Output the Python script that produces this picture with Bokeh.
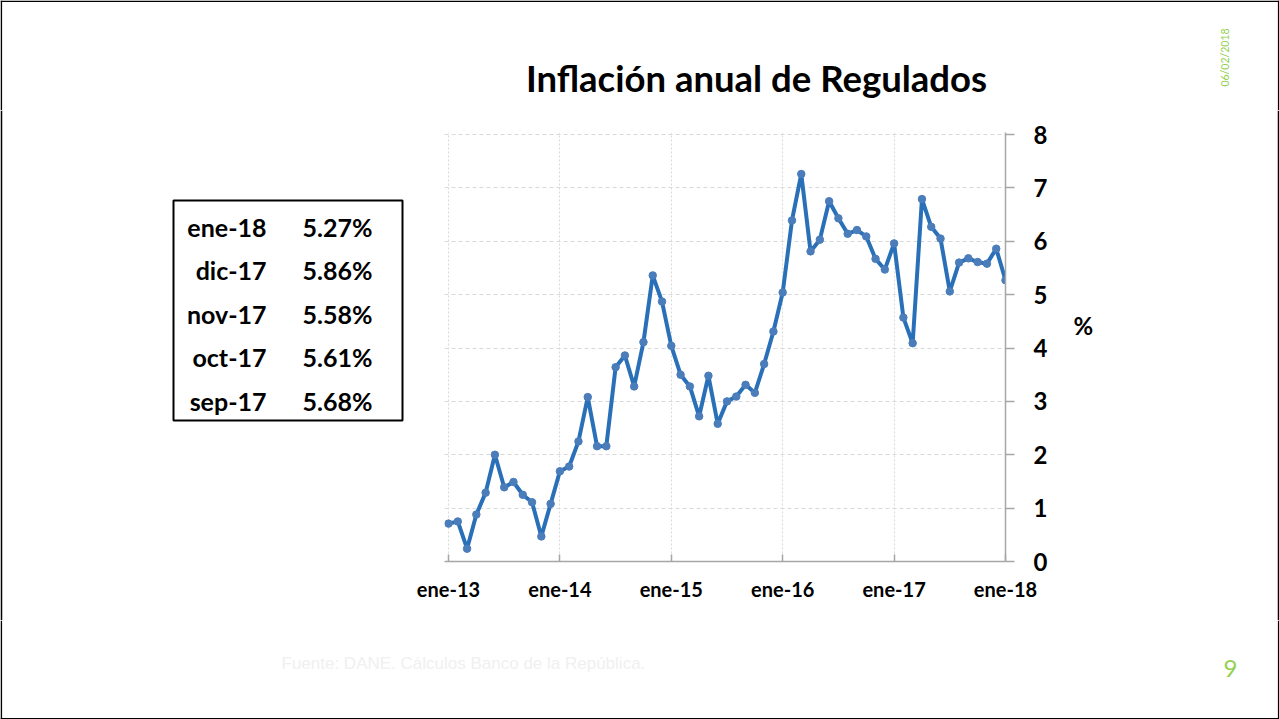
import math
from bokeh.plotting import figure
from bokeh.models import Range1d, FixedTicker, ColumnDataSource
from bokeh.layouts import column, row
from bokeh.core.properties import value
from bokeh.embed import file_html
from bokeh.resources import INLINE

# ---------------- data ----------------
month_abbr = ["ene", "feb", "mar", "abr", "may", "jun", "jul", "ago", "sep", "oct", "nov", "dic"]
years = [13, 14, 15, 16, 17, 18]

values_2013 = [0.71, 0.75, 0.24, 0.88, 1.29, 2.00, 1.39, 1.49, 1.25, 1.11, 0.47, 1.08]
values_2014 = [1.69, 1.78, 2.25, 3.08, 2.16, 2.16, 3.64, 3.86, 3.28, 4.11, 5.36, 4.87]
values_2015 = [4.04, 3.50, 3.28, 2.72, 3.48, 2.58, 3.00, 3.09, 3.31, 3.16, 3.70, 4.31]
values_2016 = [5.04, 6.39, 7.26, 5.81, 6.03, 6.75, 6.43, 6.14, 6.21, 6.09, 5.67, 5.47]
values_2017 = [5.96, 4.57, 4.09, 6.79, 6.27, 6.05, 5.06, 5.60, 5.68, 5.61, 5.58, 5.86]
values_2018 = [5.27]

y_ticks = [0, 1, 2, 3, 4, 5, 6, 7, 8]
x_tick_labels = ["ene-13", "ene-14", "ene-15", "ene-16", "ene-17", "ene-18"]

title_text = "Inflación anual de Regulados"
unit_text = "%"
source_text = "Fuente: DANE. Cálculos Banco de la República."
date_text = "06/02/2018"
page_text = "9"

# ---------------- build series ----------------
all_values = values_2013 + values_2014 + values_2015 + values_2016 + values_2017 + values_2018
labels = []
for yy in years:
    for m in month_abbr:
        labels.append(f"{m}-{yy}")
labels = labels[:len(all_values)]
idx = list(range(len(all_values)))
src = ColumnDataSource(dict(x=idx, y=all_values, label=labels))

FONT = "Lato"
BLUE = "#2A70B8"
GREEN = "#92D050"
BORDER = "black"

W, H = 1279, 719
# layout geometry (page pixels)
TOP_H = 110           # height of title strip
MID_H = 510           # height of the chart strip
BOT_H = H - TOP_H - MID_H
LEFT_W = 410          # width of the table panel
MAIN_W = 655          # width of the chart figure
RIGHT_W = W - LEFT_W - MAIN_W

FRAME_L = 444
FRAME_R = 1005
FRAME_T = 132
FRAME_B = 561
PX_PER_MONTH = (1005 - 448) / 60.0
PX_PER_UNIT = (561 - 134) / 8.0
BW = 2  # slide border width


def no_align(f):
    try:
        f.frame_align = False
    except Exception:
        pass


def blank(w, h, edge_left=0, edge_right=0):
    # the slide's side border is painted as the figure's border fill
    f = figure(width=w, height=h, x_range=Range1d(edge_left, w - edge_right), y_range=Range1d(h, 0),
               output_backend="svg", toolbar_location=None, min_border=0,
               min_border_left=edge_left, min_border_right=edge_right,
               x_axis_type=None, y_axis_type=None)
    f.outline_line_color = None
    f.background_fill_color = "white"
    f.border_fill_color = BORDER if (edge_left or edge_right) else "white"
    f.grid.visible = False
    no_align(f)
    return f


def put_text(f, x, y, text, size, style="normal", font=FONT, color="black", align="left", angle=0.0):
    f.text(x=[x], y=[y], text=[text], text_font=value(font), text_font_style=style,
           text_font_size=size, text_align=align, text_baseline="middle",
           text_color=color, angle=angle)


def border(f, w, h, left=False, right=False, top=False, bottom=False):
    L, R, T, B = [], [], [], []
    if left:
        L.append(0); R.append(1.6); T.append(0); B.append(h)
    if right:
        L.append(w - 1.6); R.append(w); T.append(0); B.append(h)
    if top:
        L.append(0); R.append(w); T.append(0); B.append(1.6)
    if bottom:
        L.append(0); R.append(w); T.append(h - 1.6); B.append(h)
    f.quad(left=L, right=R, top=T, bottom=B, fill_color=BORDER, line_color=None)


# ---------------- top strip: title + date ----------------
top = blank(W, TOP_H)
put_text(top, 756, 77, title_text, "36.5px", style="bold", align="center")
put_text(top, 1224, 57, date_text, "10.5px", color=GREEN, align="center", angle=math.pi / 2)
border(top, W, TOP_H, left=True, right=True, top=True)

# ---------------- left panel: summary table ----------------
left = blank(LEFT_W, MID_H, edge_left=BW)
left.quad(left=[173], right=[402], top=[200 - TOP_H], bottom=[420 - TOP_H],
          fill_alpha=0, line_color="black", line_width=2)
row_y0, row_dy = 226, 43.6
tab_lab, tab_val, tab_y = [], [], []
for k in range(5):
    i = len(all_values) - 1 - k
    tab_lab.append(labels[i])
    tab_val.append(f"{all_values[i]:.2f}%")
    tab_y.append(row_y0 + k * row_dy - TOP_H)
left.text(x=[266] * 5, y=tab_y, text=tab_lab, text_font=value(FONT), text_font_style="bold",
          text_font_size="25px", text_align="right", text_baseline="middle", text_color="black")
left.text(x=[302] * 5, y=tab_y, text=tab_val, text_font=value(FONT), text_font_style="bold",
          text_font_size="25px", text_align="left", text_baseline="middle", text_color="black")

# ---------------- main chart ----------------
x_start = -(448 - FRAME_L) / PX_PER_MONTH
x_end = len(all_values) - 1
y_end = (FRAME_B - FRAME_T) / PX_PER_UNIT
p = figure(width=MAIN_W, height=MID_H, x_range=Range1d(x_start, x_end), y_range=Range1d(0, y_end),
           output_backend="svg", toolbar_location=None, y_axis_location="right",
           min_border_left=FRAME_L - LEFT_W, min_border_right=(LEFT_W + MAIN_W) - FRAME_R,
           min_border_top=FRAME_T - TOP_H, min_border_bottom=(TOP_H + MID_H) - FRAME_B)
p.outline_line_color = None
p.background_fill_color = "white"
p.border_fill_color = "white"
no_align(p)

tick_pos = [i * 12 for i in range(len(x_tick_labels))]
p.xaxis.ticker = FixedTicker(ticks=tick_pos)
p.xaxis.major_label_overrides = {t: l for t, l in zip(tick_pos, x_tick_labels)}
p.xaxis.major_tick_in = 7
p.xaxis.major_tick_out = 0
p.xaxis.minor_tick_line_color = None
p.xaxis.axis_line_color = "#A6A6A6"
p.xaxis.axis_line_width = 1.5
p.xaxis.major_tick_line_color = "#A6A6A6"
p.xaxis.major_tick_line_width = 1.5
p.xaxis.major_label_text_font = FONT
p.xaxis.major_label_text_font_style = "bold"
p.xaxis.major_label_text_font_size = "20px"
p.xaxis.major_label_text_color = "black"
p.xaxis.major_label_standoff = 15

p.yaxis.ticker = FixedTicker(ticks=y_ticks)
p.yaxis.major_tick_in = 0
p.yaxis.major_tick_out = 9
p.yaxis.minor_tick_line_color = None
p.yaxis.axis_line_color = "#A6A6A6"
p.yaxis.axis_line_width = 1.5
p.yaxis.major_tick_line_color = "#A6A6A6"
p.yaxis.major_tick_line_width = 1.5
p.yaxis.major_label_text_font = FONT
p.yaxis.major_label_text_font_style = "bold"
p.yaxis.major_label_text_font_size = "24px"
p.yaxis.major_label_text_color = "black"
p.yaxis.major_label_standoff = 19

p.ygrid.grid_line_color = "#D9D9D9"
p.ygrid.grid_line_dash = "4 3"
p.ygrid.grid_line_width = 1
p.xgrid.grid_line_color = "#D9D9D9"
p.xgrid.grid_line_dash = "2 2"
p.xgrid.grid_line_width = 1

p.line("x", "y", source=src, line_color=BLUE, line_width=4)
p.scatter("x", "y", source=src, size=7.5, fill_color="#4A7DBA", line_color="#4A7DBA")

# ---------------- right panel: unit ----------------
right = blank(RIGHT_W, MID_H, edge_right=BW)
put_text(right, 1073 - (LEFT_W + MAIN_W), 325 - TOP_H, unit_text, "24px", style="bold")

# ---------------- bottom strip: source + page ----------------
bot = blank(W, BOT_H)
put_text(bot, 281, 663 - TOP_H - MID_H, source_text, "17px", font="Liberation Sans", color="#F0F0F0")
put_text(bot, 1230, 668 - TOP_H - MID_H, page_text, "24px", color=GREEN, align="center")
border(bot, W, BOT_H, left=True, right=True, bottom=True)

layout = column(top, row(left, p, right, spacing=0), bot, spacing=0)
open("out.html", "w").write(file_html(layout, INLINE))
